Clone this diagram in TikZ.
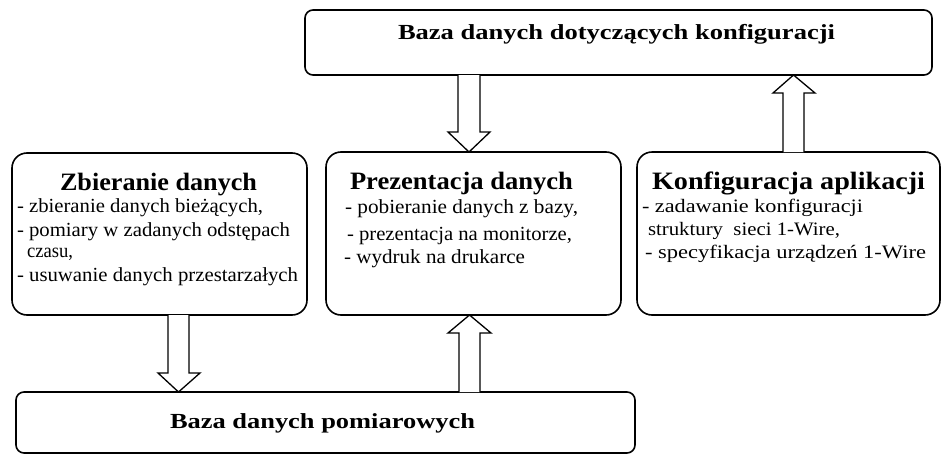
\documentclass[tikz,border=0pt]{standalone}
\usepackage{fontspec}
\setmainfont{Liberation Serif}
\usepackage{graphicx}
\newcommand{\fitline}[3]{\resizebox{#1pt}{\height}{\fontsize{#2}{#2}\selectfont #3}}
\tikzset{
  box/.style={draw, line width=1.6pt, rounded corners=15pt, inner sep=0pt, outer sep=0pt},
  dbbox/.style={box, rounded corners=8pt},
  blockarrow/.style={draw, line width=1.3pt, fill=white, line join=miter},
  txt/.style={anchor=base west, inner sep=0pt, outer sep=0pt},
}
\begin{document}
\begin{tikzpicture}[x=1pt, y=-1pt]
\useasboundingbox (0,0) rectangle (941,455);
% boxes
\node[dbbox, minimum width=627pt, minimum height=65pt] (cfgdb) at (618.5,42.5) {};
\node[box, minimum width=295pt, minimum height=162pt] (zbier) at (159.5,234) {};
\node[box, minimum width=295pt, minimum height=163pt] (prez) at (473.5,233.5) {};
\node[box, minimum width=303pt, minimum height=163pt] (konf) at (788.5,233.5) {};
\node[dbbox, minimum width=619pt, minimum height=61pt] (pomiar) at (325.5,422.5) {};
% texts
\node[txt] (cfgT) at (398,39) {\fitline{437}{21.5}{\bfseries Baza danych dotyczących konfiguracji}};
\node[txt] (pomT) at (170,428) {\fitline{305}{21.5}{\bfseries Baza danych pomiarowych}};
\node[txt] (zbT) at (60,190) {\fitline{197}{25}{\bfseries Zbieranie danych}};
\node[txt] (zb1) at (17,212) {\fitline{246}{20}{- zbieranie danych bieżących,}};
\node[txt] (zb2) at (17,236) {\fitline{273}{20}{- pomiary w zadanych odstępach}};
\node[txt] (zb3) at (27,257) {\fitline{46}{20}{czasu,}};
\node[txt] (zb4) at (17,281) {\fitline{281}{20}{- usuwanie danych przestarzałych}};
\node[txt] (prT) at (350,189) {\fitline{223}{25}{\bfseries Prezentacja danych}};
\node[txt] (pr1) at (345,213) {\fitline{233}{20}{- pobieranie danych z bazy,}};
\node[txt] (pr2) at (347,240) {\fitline{225}{20}{- prezentacja na monitorze,}};
\node[txt] (pr3) at (344,263) {\fitline{181}{20}{- wydruk na drukarce}};
\node[txt] (koT) at (652,189) {\fitline{273}{25}{\bfseries Konfiguracja aplikacji}};
\node[txt] (ko1) at (642,212) {\fitline{221}{19}{- zadawanie konfiguracji}};
\node[txt] (ko2) at (648,235) {\fitline{192}{19}{struktury\ \ sieci 1-Wire,}};
\node[txt] (ko3) at (645,258) {\fitline{281}{19}{- specyfikacja urządzeń 1-Wire}};
% block arrows
\draw[blockarrow] (458,0 |- cfgdb.south) -- (458,132) -- (448,132) -- (469,0 |- prez.north)
  -- (490,132) -- (480,132) -- (480,0 |- cfgdb.south);
\draw[blockarrow] (783,0 |- konf.north) -- (783,93) -- (773,93) -- (793.5,0 |- cfgdb.south)
  -- (815,93) -- (804,93) -- (804,0 |- konf.north);
\draw[blockarrow] (168,0 |- zbier.south) -- (168,373) -- (158,373) -- (178.5,0 |- pomiar.north)
  -- (200,373) -- (189,373) -- (189,0 |- zbier.south);
\draw[blockarrow] (459,0 |- pomiar.north) -- (459,333) -- (448,333) -- (469.5,0 |- prez.south)
  -- (491,333) -- (480,333) -- (480,0 |- pomiar.north);
\end{tikzpicture}
\end{document}
